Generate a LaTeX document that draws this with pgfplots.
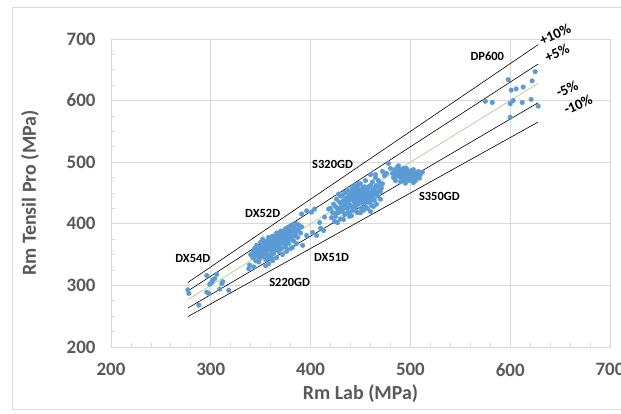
\documentclass[border=0pt]{standalone}
\usepackage{pgfplots}
\pgfplotsset{compat=1.18}
\usepackage{fontspec}
\setmainfont{Carlito}
\definecolor{tickgray}{HTML}{595959}
\definecolor{gridgray}{HTML}{D9D9D9}
\definecolor{ptblue}{HTML}{5B9BD5}
\definecolor{linegreen}{HTML}{A9D18E}
\pgfplotstableread{
x y
277 293
278 287
288 268
296 289
298 287
301 305
302 309
304 311
306 318
299 302
311 303
312 306
309 294
318 292
296 316
340 350
342 345
343 355
344 360
345 352
345 340
346 365
347 348
348 358
349 343
350 362
350 370
351 352
352 347
352 375
353 360
354 368
355 355
355 342
356 372
357 362
357 350
358 378
359 366
360 357
360 345
361 372
362 362
362 380
363 352
364 368
365 375
365 358
366 345
366 385
367 365
368 372
368 355
369 380
370 368
370 388
371 360
372 375
372 350
373 383
374 370
375 392
375 362
376 378
377 385
378 368
378 395
379 375
380 388
380 360
381 398
382 380
383 372
384 392
385 385
386 400
387 378
388 390
390 385
391 395
392 365
376 355
358 335
362 340
355 332
348 338
343 330
338 327
339 333
382 362
386 368
353 350
359 360
364 363
369 372
374 378
357 367
362 371
367 376
371 381
347 355
349 350
351 358
353 365
355 362
356 357
358 370
360 365
361 355
363 375
364 358
366 370
367 380
368 362
370 378
371 385
373 368
374 388
376 372
377 390
379 382
380 395
382 388
383 398
385 392
378 378
372 370
365 366
360 372
354 358
350 355
346 352
344 348
357 345
361 350
369 358
375 368
381 375
385 380
388 398
391 416
396 421
401 419
404 424
406 381
409 402
413 389
418 424
410 393
414 411
402 386
396 381
420 425
422 418
423 432
425 412
426 440
427 425
428 418
429 435
430 408
430 445
431 428
432 420
433 438
434 450
434 415
435 430
436 442
437 425
437 455
438 435
439 418
440 448
440 430
441 440
442 458
442 422
443 445
444 435
444 462
445 428
446 450
446 440
447 418
448 455
448 432
449 445
450 465
450 438
451 425
452 452
452 444
453 435
454 460
455 448
455 428
456 440
457 455
458 435
459 450
460 462
460 442
461 430
462 455
463 447
464 438
465 460
466 450
467 445
468 470
469 458
470 452
472 465
465 475
462 468
455 470
448 465
444 455
438 445
436 452
432 446
428 448
425 428
424 404
421 410
427 402
433 407
439 412
441 413
446 420
450 418
453 422
457 425
460 420
463 428
466 432
470 440
471 458
445 445
448 448
451 450
443 441
450 442
454 452
458 446
447 436
442 450
436 436
438 440
440 445
441 452
443 438
445 450
446 432
447 460
449 440
450 452
451 435
452 458
453 446
454 440
456 452
457 445
458 460
459 440
461 450
462 445
464 455
466 462
448 442
444 448
439 428
434 426
431 432
429 422
426 418
437 418
443 428
455 436
461 438
468 452
470 465
474 478
476 482
472 485
465 480
460 480
478 498
480 490
482 482
483 475
484 488
485 470
486 480
487 492
488 485
489 476
490 468
490 482
491 488
492 478
493 472
494 485
495 480
495 466
496 490
497 476
498 483
499 470
500 486
500 478
501 473
502 481
503 488
504 476
505 470
506 482
507 478
508 485
509 474
510 480
512 484
488 494
492 470
485 477
497 472
503 467
487 482
491 475
494 478
496 484
498 478
501 482
504 482
506 476
493 490
484 483
598 634
601 617
606 619
613 622
625 647
622 632
575 599
582 597
600 595
603 600
612 597
621 602
628 591
600 573
}\datatable
\begin{document}
\begin{tikzpicture}
\begin{axis}[
  scale only axis, width=499bp, height=308bp,
  xmin=200, xmax=700, ymin=200, ymax=700,
  xtick={200,300,...,700}, ytick={200,300,...,700},
  minor x tick num=4, minor y tick num=3,
  xtick pos=bottom, ytick pos=left,
  tick align=inside, major tick length=0pt, minor tick length=4bp,
  minor tick style={gridgray, line width=0.8bp},
  grid=major, major grid style={gridgray, line width=0.8bp},
  axis line style={gridgray, line width=0.8bp},
  /pgf/number format/assume math mode=true,
  tick label style={font=\fontsize{19}{19}\selectfont\bfseries, text=tickgray},
  xticklabel style={yshift=-13bp},
  yticklabel style={xshift=-12bp},
  xlabel={Rm Lab (MPa)}, ylabel={Rm Tensil Pro (MPa)},
  label style={font=\fontsize{20}{20}\selectfont\bfseries, text=tickgray},
  xlabel style={at={(axis description cs:0.5,-0.1526)}, anchor=center},
  ylabel style={at={(axis description cs:-0.1623,0.5)}, anchor=center},
  clip=false,
]
\addplot[only marks, mark=*, mark size=2.3bp, color=ptblue, mark options={draw=ptblue, fill=ptblue}] table {\datatable};
\addplot[black, line width=0.6bp] coordinates {(277,304.7) (628,690.8)};
\addplot[black, line width=0.6bp] coordinates {(277,290.85) (628,659.4)};
\addplot[linegreen, line width=0.7bp] coordinates {(277,277) (628,628)};
\addplot[black, line width=0.6bp] coordinates {(277,263.15) (628,596.6)};
\addplot[black, line width=0.6bp] coordinates {(277,249.3) (628,565.2)};
\begin{scope}[every node/.style={font=\fontsize{12.5}{12.5}\selectfont\bfseries, text=black}]
\node at (axis cs:577,672) {DP600};
\node at (axis cs:422,497) {S320GD};
\node at (axis cs:529,445) {S350GD};
\node at (axis cs:352,417) {DX52D};
\node at (axis cs:282,343) {DX54D};
\node at (axis cs:421,346) {DX51D};
\node at (axis cs:379,304) {S220GD};
\end{scope}
\begin{scope}[every node/.style={font=\fontsize{14.5}{14.5}\selectfont\bfseries, text=black, inner sep=1bp, rotate=24}]
\node at (axis cs:645,707) {+10\%};
\node at (axis cs:647,677) {+5\%};
\node at (axis cs:657,619) {-5\%};
\node at (axis cs:668,594) {-10\%};
\end{scope}
\coordinate (FR) at (rel axis cs:1.08,1.1039);
\coordinate (FTL) at (rel axis cs:-0.1984,1.1039);
\coordinate (FBL) at (rel axis cs:-0.1984,-0.2013);
\coordinate (FBR) at (rel axis cs:1.08,-0.2013);
\coordinate (BBL) at (rel axis cs:-0.2224,-0.2175);
\coordinate (BTR) at (rel axis cs:1.02204,1.1266);
\end{axis}
\draw[gridgray, line width=0.8bp] (FR) -- (FTL) -- (FBL) -- (FBR);
\pgfresetboundingbox
\useasboundingbox (BBL) rectangle (BTR);
\end{tikzpicture}
\end{document}
